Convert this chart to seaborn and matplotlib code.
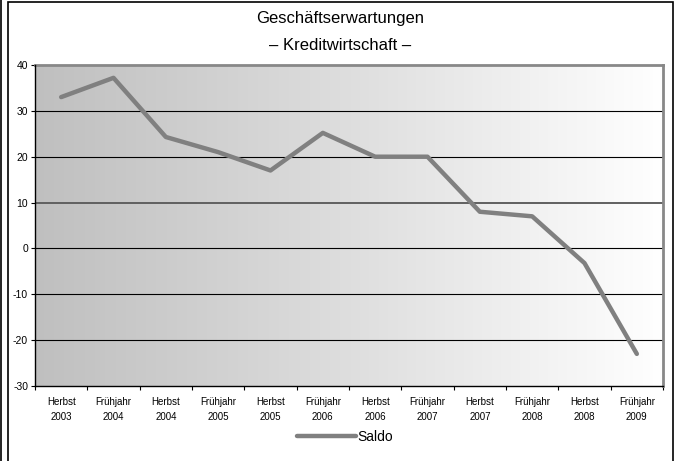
import numpy as np
import pandas as pd
import matplotlib
matplotlib.use("Agg")
import matplotlib.pyplot as plt
import seaborn as sns
from matplotlib.lines import Line2D
from matplotlib.patches import Rectangle

categories = ["Herbst\n2003", "Frühjahr\n2004", "Herbst\n2004", "Frühjahr\n2005",
              "Herbst\n2005", "Frühjahr\n2006", "Herbst\n2006", "Frühjahr\n2007",
              "Herbst\n2007", "Frühjahr\n2008", "Herbst\n2008", "Frühjahr\n2009"]
saldo = [33, 37.2, 24.3, 21, 17, 25.2, 20, 20, 8, 7, -3.2, -23]
yticks = [-30, -20, -10, 0, 10, 20, 30, 40]

sns.set_theme(style="white")
plt.rcParams['font.family'] = ['Liberation Sans', 'DejaVu Sans']
plt.rcParams['text.color'] = 'black'
plt.rcParams['xtick.color'] = 'black'
plt.rcParams['ytick.color'] = 'black'

fig = plt.figure(figsize=(6.77, 4.61), dpi=100)
ax = fig.add_axes([35/677, 1-386/461, (663-35)/677, (386-65)/461])

df = pd.DataFrame({"Zeit": categories, "Saldo": saldo})

grad = np.linspace(0, 1, 256).reshape(1, -1)
cmap = matplotlib.colors.LinearSegmentedColormap.from_list(
    "g", [(0.75, 0.75, 0.75), (0.87, 0.87, 0.87), (1, 1, 1)])
ax.imshow(grad, extent=[0, 1, 0, 1], transform=ax.transAxes, cmap=cmap, aspect="auto", zorder=0)

for y in yticks[1:-1]:
    if y == 10:
        ax.axhline(y, color="#606060", lw=1.4, zorder=1)
    else:
        ax.axhline(y, color="black", lw=0.8, zorder=1)

sns.lineplot(data=df, x="Zeit", y="Saldo", ax=ax, color="#808080", lw=3.2, zorder=3, sort=False)

ax.set_xlim(-0.5, 11.5)
ax.set_ylim(-30, 40)
ax.set_yticks(yticks)
ax.set_yticklabels([str(v) for v in yticks], fontsize=7.5)
ax.set_xticks(range(12))
ax.set_xticklabels(categories, fontsize=7, linespacing=1.6)
ax.set_xlabel("")
ax.set_ylabel("")
ax.tick_params(axis='x', length=0, pad=8)
ax.tick_params(axis='y', length=3, width=0.8, color="black", pad=2, left=True)
ax.set_xticks(np.arange(-0.5, 12, 1), minor=True)
ax.tick_params(axis='x', which='minor', length=3, width=0.8, color="black", bottom=True)

for side in ["left", "bottom"]:
    ax.spines[side].set_color("black")
    ax.spines[side].set_linewidth(1.0)
for side in ["top", "right"]:
    ax.spines[side].set_color("#888888")
    ax.spines[side].set_linewidth(2.0)
ax.spines["left"].set_zorder(4)
ax.spines["bottom"].set_zorder(4)

fig.text(340/677, 1-18/461, "Geschäftserwartungen", ha="center", va="center", fontsize=12)
fig.text(340/677, 1-45/461, "– Kreditwirtschaft –", ha="center", va="center", fontsize=12)

handle = Line2D([0], [0], color="#808080", lw=3.2)
fig.legend([handle], ["Saldo"], loc="center", bbox_to_anchor=(345/677, 1-437/461),
           frameon=False, fontsize=10, handlelength=4.2, handletextpad=0.1)

fig.add_artist(Rectangle((8/677, -0.01), (673-8)/677, 1-2/461 + 0.01, transform=fig.transFigure,
                         fill=False, edgecolor="black", lw=1.2))
fig.add_artist(Line2D([1/677, 1/677], [0, 1], transform=fig.transFigure, color="black", lw=1.2))

fig.savefig("out.png", dpi=100)
